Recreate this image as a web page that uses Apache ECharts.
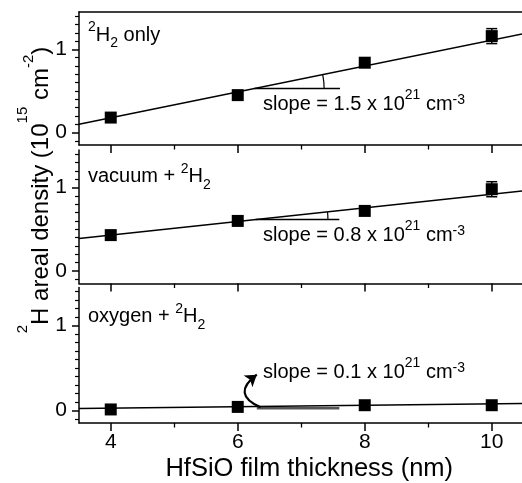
<!DOCTYPE html>
<html>
<head>
<meta charset="utf-8">
<script src="https://cdn.jsdelivr.net/npm/echarts@6/dist/echarts.min.js"></script>
<style>html,body{margin:0;padding:0;background:#fff}#c{width:522px;height:483px}</style>
</head>
<body>
<div id="c"></div>
<script>
// ---- data ----
const xVals = [4, 6, 8, 10];
const onlyVals = [0.18, 0.45, 0.84, 1.16];
const onlyErr = [0, 0, 0, 0.09];
const vacuumVals = [0.43, 0.60, 0.72, 0.98];
const vacuumErr = [0, 0, 0, 0.09];
const oxygenVals = [0.01, 0.04, 0.06, 0.06];
const oxygenErr = [0, 0, 0, 0];
const fitX = [3.5, 10.5];
const onlyFit = [0.10, 1.19];
const vacuumFit = [0.39, 0.96];
const oxygenFit = [0.02, 0.08];
const xMajorTicks = [4, 6, 8, 10];
const xMinorTicks = [5, 7, 9];
const yMajorTicks = [0, 1];
const yMinorTicks = [-0.1, 0.1, 0.2, 0.3, 0.4, 0.5, 0.6, 0.7, 0.8, 0.9, 1.1, 1.2, 1.3, 1.4];
const panelLabels = ['{sp|2}{m|H}{sb|2}{m| only}', '{m|vacuum + }{sp|2}{m|H}{sb|2}', '{m|oxygen + }{sp|2}{m|H}{sb|2}'];
const slopeLabels = ['1.5', '0.8', '0.1'];
// annotation anchors (data units)
const slopeStartX = [6.26, 6.28, 6.3];
const slopeEndX = [7.61, 7.6, 7.6];
const slopeArcX = [7.36, 7.42];
const oxygenRefY = 0.025;
const arrowFrom = [6.36, 0.035];
const arrowTo = [6.30, 0.42];

const FONT = "'Liberation Sans', Arial, Helvetica, sans-serif";
const X_MIN = 3.5, X_MAX = 10.5, Y_MIN = -0.15, Y_MAX = 1.45;

const chart = echarts.init(document.getElementById('c'), null, {renderer: 'canvas'});

const grids = [
  {left: 79, top: 12, width: 444.5, height: 133},
  {left: 79, top: 150, width: 444.5, height: 133.5},
  {left: 79, top: 287.5, width: 444.5, height: 135.5}
].map(g => Object.assign({outerBoundsMode: 'none', containLabel: false}, g));

const axisLineStyle = {color: '#000', width: 1.5};
const xAxes = [], yAxes = [];
for (let g = 0; g < 3; g++) {
  xAxes.push({
    gridIndex: g, type: 'value', min: X_MIN, max: X_MAX, position: 'bottom',
    axisLine: {show: true, onZero: false, lineStyle: axisLineStyle},
    axisTick: {show: true, customValues: xMajorTicks, length: 8, lineStyle: {color: '#000', width: 1.5}},
    axisLabel: {show: g === 2, customValues: xMajorTicks, margin: 9, fontSize: 21, color: '#000', fontFamily: FONT},
    splitLine: {show: false},
    name: g === 2 ? 'HfSiO film thickness (nm)' : '',
    nameLocation: 'middle', nameGap: 33,
    nameTextStyle: {fontSize: 25.5, color: '#000', fontFamily: FONT, padding: [0, 0, 0, 16]}
  });
  yAxes.push({
    gridIndex: g, type: 'value', min: Y_MIN, max: Y_MAX, position: 'left',
    axisLine: {show: true, onZero: false, lineStyle: axisLineStyle},
    axisTick: {show: true, customValues: yMajorTicks, length: 7, lineStyle: {color: '#000', width: 1.5}},
    axisLabel: {customValues: yMajorTicks, margin: 12, fontSize: 21, color: '#000', fontFamily: FONT},
    splitLine: {show: false}
  });
}
for (let g = 0; g < 3; g++) {
  xAxes.push({
    gridIndex: g, type: 'value', min: X_MIN, max: X_MAX, position: 'bottom',
    axisLine: {show: false, onZero: false},
    axisTick: {show: true, customValues: xMinorTicks, length: 4.5, lineStyle: {color: '#000', width: 1.3}},
    axisLabel: {show: false}, splitLine: {show: false}
  });
  yAxes.push({
    gridIndex: g, type: 'value', min: Y_MIN, max: Y_MAX, position: 'left',
    axisLine: {show: false, onZero: false},
    axisTick: {show: true, customValues: yMinorTicks, length: 4, lineStyle: {color: '#000', width: 1.2}},
    axisLabel: {show: false}, splitLine: {show: false}
  });
}
// top frame of the first panel
xAxes.push({
  gridIndex: 0, type: 'value', min: X_MIN, max: X_MAX, position: 'top',
  axisLine: {show: true, onZero: false, lineStyle: axisLineStyle},
  axisTick: {show: false}, axisLabel: {show: false}, splitLine: {show: false}
});

const panels = [
  {vals: onlyVals, err: onlyErr, fit: onlyFit},
  {vals: vacuumVals, err: vacuumErr, fit: vacuumFit},
  {vals: oxygenVals, err: oxygenErr, fit: oxygenFit}
];

function fitAt(fit, x) { return fit[0] + (fit[1] - fit[0]) * (x - fitX[0]) / (fitX[1] - fitX[0]); }
function fitSlope(fit) { return (fit[1] - fit[0]) / (fitX[1] - fitX[0]); }

const series = [];
panels.forEach((p, g) => {
  series.push({
    type: 'line', xAxisIndex: g, yAxisIndex: g, symbol: 'none', z: 2,
    data: fitX.map((x, i) => [x, p.fit[i]]),
    lineStyle: {color: '#000', width: 1.5}
  });
  series.push({
    type: 'custom', xAxisIndex: g, yAxisIndex: g, z: 3,
    data: xVals.map((x, i) => [x, p.vals[i], p.err[i]]),
    renderItem: (params, api) => {
      const x = api.value(0), y = api.value(1), e = api.value(2);
      if (!e) return null;
      const t = api.coord([x, y + e]), b = api.coord([x, y - e]);
      const w = 5.5;
      const st = {stroke: '#000', lineWidth: 1.5};
      return {type: 'group', children: [
        {type: 'line', shape: {x1: t[0], y1: t[1], x2: b[0], y2: b[1]}, style: st},
        {type: 'line', shape: {x1: t[0] - w, y1: t[1], x2: t[0] + w, y2: t[1]}, style: st},
        {type: 'line', shape: {x1: b[0] - w, y1: b[1], x2: b[0] + w, y2: b[1]}, style: st}
      ]};
    }
  });
  series.push({
    type: 'scatter', xAxisIndex: g, yAxisIndex: g, z: 4,
    symbol: 'rect', symbolSize: 12,
    data: xVals.map((x, i) => [x, p.vals[i]]),
    itemStyle: {color: '#000', opacity: 1}
  });
  if (g < 2) {
    const y0 = fitAt(p.fit, slopeStartX[g]);
    series.push({
      type: 'line', xAxisIndex: g, yAxisIndex: g, symbol: 'none', z: 2,
      data: [[slopeStartX[g], y0], [slopeEndX[g], y0]],
      lineStyle: {color: '#000', width: 1.5}
    });
    const slope = fitSlope(p.fit), arcX = slopeArcX[g];
    series.push({
      type: 'custom', xAxisIndex: g, yAxisIndex: g, z: 2,
      data: [[slopeStartX[g], y0]],
      renderItem: (params, api) => {
        const c = api.coord([api.value(0), api.value(1)]);
        const e = api.coord([api.value(0) + 1, api.value(1) + slope]);
        const a = Math.atan2(e[1] - c[1], e[0] - c[0]);
        const r = api.coord([arcX, api.value(1)])[0] - c[0];
        return {type: 'arc', shape: {cx: c[0], cy: c[1], r: r, startAngle: a, endAngle: 0, clockwise: true},
          style: {stroke: '#000', fill: 'transparent', lineWidth: 1.2}};
      }
    });
  } else {
    series.push({
      type: 'line', xAxisIndex: g, yAxisIndex: g, symbol: 'none', z: 1,
      data: [[slopeStartX[g], oxygenRefY], [slopeEndX[g], oxygenRefY]],
      lineStyle: {color: '#555', width: 2.5}
    });
    series.push({
      type: 'lines', coordinateSystem: 'cartesian2d', xAxisIndex: g, yAxisIndex: g, z: 5,
      data: [{coords: [arrowFrom, arrowTo]}],
      symbol: ['none', 'arrow'], symbolSize: 11,
      lineStyle: {color: '#000', width: 2.2, curveness: 0.86, opacity: 1}
    });
  }
});

// rich-text styles: superscripts are top-aligned in a line of height L, an optional top padding lowers them
function richSet(mainSize, L, supSize, sup2Pad) {
  return {
    m: {fontSize: mainSize, fontFamily: FONT, color: '#000', lineHeight: L, verticalAlign: 'middle'},
    sp: {fontSize: supSize, fontFamily: FONT, color: '#000', verticalAlign: 'top'},
    sp2: {fontSize: supSize, fontFamily: FONT, color: '#000', verticalAlign: 'top', padding: [sup2Pad || 0, 0, 0, 0]},
    sb: {fontSize: supSize, fontFamily: FONT, color: '#000', verticalAlign: 'bottom'}
  };
}

const labelRich = richSet(20, 30, 14);
const slopeRich = richSet(20, 32, 14, 5);
const titleRich = richSet(24, 52, 15, 6);

function textEl(x, y, text, rich, rotation) {
  return {type: 'text', x: x, y: y, rotation: rotation || 0, z: 10,
    style: {text: text, rich: rich, fontFamily: FONT, fontSize: 20, fill: '#000',
      align: rotation ? 'center' : 'left', verticalAlign: 'middle'}};
}

const labelY = [35, 176.7, 316.7];
const slopeY = [104, 235, 372.5];
const graphic = [];
panelLabels.forEach((t, i) => graphic.push(textEl(88, labelY[i], t, labelRich)));
slopeLabels.forEach((s, i) => graphic.push(textEl(263, slopeY[i], '{m|slope = ' + s + ' x 10}{sp|21}{m| cm}{sp2|-3}', slopeRich)));
graphic.push(textEl(41, 190, '{sp|2}{m|H areal density (10}{sp|15}{m| cm}{sp2|-2}{m|)}', titleRich, Math.PI / 2));

chart.setOption({
  animation: false,
  backgroundColor: '#fff',
  grid: grids,
  xAxis: xAxes,
  yAxis: yAxes,
  series: series,
  graphic: graphic
});
</script>
</body>
</html>
